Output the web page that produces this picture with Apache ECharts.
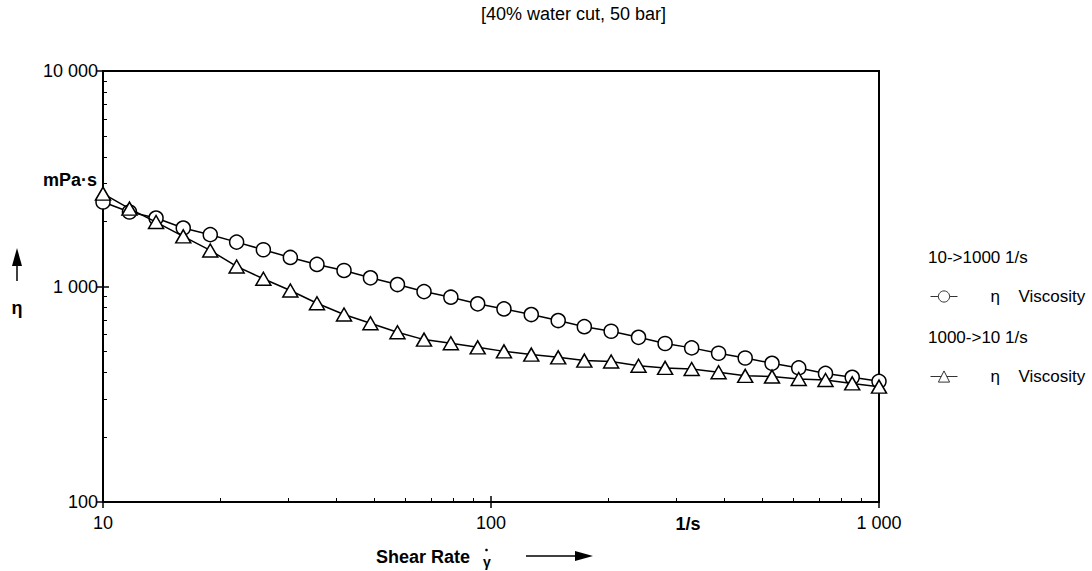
<!DOCTYPE html>
<html><head><meta charset="utf-8">
<script src="https://cdn.jsdelivr.net/npm/echarts@6/dist/echarts.min.js"></script>
<style>html,body{margin:0;padding:0;background:#fff}#c{width:1092px;height:571px}</style>
</head><body><div id="c"></div>
<script>
// ---- data ----
const shearRate = [10, 11.7, 13.7, 16.1, 18.9, 22.1, 25.9, 30.4, 35.6, 41.8, 48.9, 57.4, 67.2, 78.8, 92.4,
  108, 127, 149, 174, 204, 240, 281, 329, 386, 452, 530, 621, 728, 853, 1000];
const viscosityUp = [2466, 2216, 2078, 1867, 1740, 1607, 1481, 1364, 1266, 1187, 1097, 1021, 947, 892, 831,
  787, 741, 695, 651, 620, 581, 544, 519, 490, 466, 440, 419, 395, 379, 363];
const viscosityDown = [2698, 2297, 1991, 1708, 1470, 1239, 1086, 958, 836, 741, 675, 613, 567, 545, 522,
  500, 483, 469, 453, 449, 429, 419, 414, 400, 385, 382, 372, 368, 355, 343];
const xMajorTicks = [10, 100, 1000];
const xMinorTicks = [20, 30, 40, 50, 60, 70, 80, 90, 200, 300, 400, 500, 600, 700, 800, 900];
const yMajorTicks = [100, 1000, 10000];
const yMinorTicks = [200, 300, 400, 500, 600, 700, 800, 900, 2000, 3000, 4000, 5000, 6000, 7000, 8000, 9000];
const xTickLabels = ['10', '100', '1 000'];
const yTickLabels = ['100', '1 000', '10 000'];
const titleText = '[40% water cut, 50 bar]';
const seriesHeaders = ['10->1000 1/s', '1000->10 1/s'];

const FONT = '"Liberation Sans", Arial, Helvetica, sans-serif';
const FS = 17;

function labelFor(ticks, labels) {
  return function (v) {
    for (let i = 0; i < ticks.length; i++) {
      if (Math.abs(v - ticks[i]) / ticks[i] < 1e-6) return labels[i];
    }
    return '';
  };
}
function baseAxis(min, max, pos) {
  return { type: 'log', logBase: 10, min: min, max: max, position: pos,
    splitLine: { show: false }, axisLabel: { show: false },
    axisTick: { show: false }, axisLine: { show: false, onZero: false } };
}
function axisSet(min, max, pos, majors, minors, labels, margin) {
  const a = baseAxis(min, max, pos);
  a.axisLine = { show: true, onZero: false, lineStyle: { color: '#000', width: 2 } };
  a.axisTick = { show: true, inside: false, length: 6, customValues: majors, lineStyle: { color: '#000', width: 1.5 } };
  a.axisLabel = { show: true, customValues: majors, formatter: labelFor(majors, labels),
    color: '#000', fontSize: 18, fontFamily: FONT, margin: margin, showMinLabel: true, showMaxLabel: true };
  const b = baseAxis(min, max, pos);
  b.axisTick = { show: true, inside: true, length: 6, customValues: majors, lineStyle: { color: '#000', width: 1.5 } };
  const c = baseAxis(min, max, pos);
  c.axisTick = { show: true, inside: true, length: 4, customValues: minors, lineStyle: { color: '#000', width: 1 } };
  return [a, b, c];
}

const chart = echarts.init(document.getElementById('c'), null, { renderer: 'svg' });
const legendCommon = {
  itemWidth: 27, itemHeight: 14, selectedMode: false, padding: 0,
  itemStyle: { borderWidth: 1, borderColor: '#333', color: '#fff' },
  lineStyle: { width: 1, color: '#333' },
  formatter: function () { return '{s|}{e|η}{v|Viscosity}'; },
  textStyle: { fontFamily: FONT, fontSize: FS, color: '#000',
    rich: { s: { width: 28 }, e: { width: 28, fontFamily: FONT, fontSize: FS, color: '#000' },
      v: { fontFamily: FONT, fontSize: FS, color: '#000' } } }
};
function txt(x, y, text, font, align) {
  return { type: 'text', x: x, y: y, style: { text: text, font: font, fill: '#000',
    align: align || 'center', verticalAlign: 'middle', textAlign: align || 'center', textVerticalAlign: 'middle' } };
}
chart.setOption({
  animation: false,
  backgroundColor: '#fff',
  title: [
    { text: titleText, left: 481, top: 5, padding: 0, textStyle: { fontFamily: FONT, fontSize: 18, fontWeight: 'normal', color: '#000' } },
    { text: seriesHeaders[0], left: 928, top: 249, padding: 0, textStyle: { fontFamily: FONT, fontSize: FS, fontWeight: 'normal', color: '#000' } },
    { text: seriesHeaders[1], left: 928, top: 329, padding: 0, textStyle: { fontFamily: FONT, fontSize: FS, fontWeight: 'normal', color: '#000' } }
  ],
  grid: { left: 103, right: 213, top: 71, bottom: 69, show: true, borderColor: '#000', borderWidth: 2, backgroundColor: 'transparent' },
  xAxis: axisSet(10, 1000, 'bottom', xMajorTicks, xMinorTicks, xTickLabels, 12),
  yAxis: axisSet(100, 10000, 'left', yMajorTicks, yMinorTicks, yTickLabels, 5),
  legend: [
    Object.assign({ data: ['up'], left: 930, top: 288 }, legendCommon),
    Object.assign({ data: ['down'], left: 930, top: 368 }, legendCommon)
  ],
  series: [
    { type: 'line', name: 'up', data: shearRate.map((x, i) => [x, viscosityUp[i]]),
      symbol: 'circle', symbolSize: 14, showSymbol: true, showAllSymbol: true, z: 2,
      lineStyle: { color: '#000', width: 1.5 }, itemStyle: { color: '#fff', borderColor: '#000', borderWidth: 1.5 } },
    { type: 'line', name: 'down', data: shearRate.map((x, i) => [x, viscosityDown[i]]),
      symbol: 'triangle', symbolSize: [15, 13], showSymbol: true, showAllSymbol: true, z: 3,
      lineStyle: { color: '#000', width: 1.5 }, itemStyle: { color: '#fff', borderColor: '#000', borderWidth: 1.5 } }
  ],
  graphic: [
    txt(97, 180, 'mPa·s', 'bold 18px ' + FONT, 'right'),
    { type: 'line', shape: { x1: 17, y1: 281, x2: 17, y2: 262 }, style: { stroke: '#000', lineWidth: 1.5 } },
    { type: 'polygon', shape: { points: [[12, 266], [22, 266], [17, 248]] }, style: { fill: '#000' } },
    txt(17, 308, 'η', 'bold 18px ' + FONT, 'center'),
    txt(688, 524, '1/s', 'bold 18px ' + FONT, 'center'),
    txt(470, 557, 'Shear Rate', 'bold 18px ' + FONT, 'right'),
    { type: 'circle', shape: { cx: 486.5, cy: 550, r: 1.3 }, style: { fill: '#000' } },
    txt(487, 562, 'γ', 'bold 14px ' + FONT, 'center'),
    { type: 'line', shape: { x1: 526, y1: 556, x2: 578, y2: 556 }, style: { stroke: '#000', lineWidth: 1.5 } },
    { type: 'polygon', shape: { points: [[575, 551], [575, 561], [593, 556]] }, style: { fill: '#000' } }
  ]
});
</script></body></html>
